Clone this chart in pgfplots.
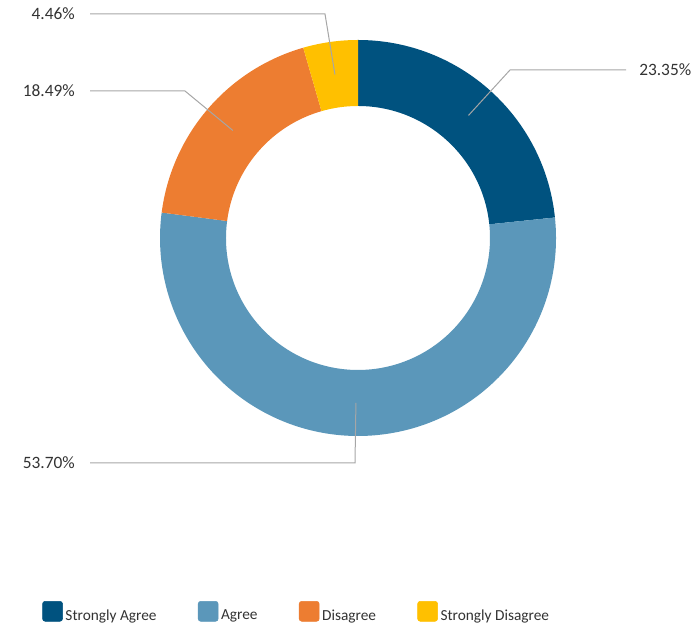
\documentclass[border=0pt]{standalone}
\usepackage{pgfplots}
\pgfplotsset{compat=1.18}
\usepackage{pgfplotstable}
\usepackage{fontspec}
\setmainfont{Carlito}

\definecolor{cSA}{HTML}{00527F}
\definecolor{cA}{HTML}{5B97BA}
\definecolor{cD}{HTML}{ED7D31}
\definecolor{cSD}{HTML}{FFC000}
\definecolor{leadgray}{HTML}{A6A6A6}

\pgfplotstableread{
label value colour
{Strongly Agree} 23.35 cSA
Agree 53.70 cA
Disagree 18.49 cD
{Strongly Disagree} 4.46 cSD
}\responses

% ring geometry, in axis units (1 unit = 0.75pt)
\def\cx{358}\def\cy{389}
\def\rout{198}\def\rin{132}\def\rmid{165}

% build the ring slices from the table, clockwise from 12 o'clock
\def\donut{}
\def\cum{0}
\pgfplotstablegetrowsof{\responses}
\pgfmathtruncatemacro\lastrow{\pgfplotsretval-1}
\pgfplotsforeachungrouped \i in {0,...,\lastrow}{%
  \pgfplotstablegetelem{\i}{value}\of\responses \let\val\pgfplotsretval
  \pgfplotstablegetelem{\i}{colour}\of\responses \let\col\pgfplotsretval
  \pgfmathsetmacro\sa{90-3.6*\cum}
  \pgfmathsetmacro\ea{90-3.6*(\cum+\val)}
  \pgfmathsetmacro\ma{(\sa+\ea)/2}
  \pgfmathsetmacro\cum{\cum+\val}
  \pgfmathsetmacro\ox{\cx+\rout*cos(\sa)}
  \pgfmathsetmacro\oy{\cy+\rout*sin(\sa)}
  \pgfmathsetmacro\ix{\cx+\rin*cos(\ea)}
  \pgfmathsetmacro\iy{\cy+\rin*sin(\ea)}
  \pgfmathsetmacro\lx{\cx+\rmid*cos(\ma)}
  \pgfmathsetmacro\ly{\cy+\rmid*sin(\ma)}
  \xdef\donut{\donut
    \noexpand\fill[\col] (axis cs:\ox,\oy)
      arc[start angle=\sa, end angle=\ea, radius=\rout*0.75pt]
      -- (axis cs:\ix,\iy)
      arc[start angle=\ea, end angle=\sa, radius=\rin*0.75pt] -- cycle;}
  \expandafter\xdef\csname lp\i\endcsname{axis cs:\lx,\ly}
  \expandafter\xdef\csname lv\i\endcsname{\val}
}

\newcommand\pct[1]{\pgfmathprintnumber[fixed,fixed zerofill,precision=2,assume math mode=true]{#1}\%}

\begin{document}
\begin{tikzpicture}
\begin{axis}[
    x=0.75pt, y=0.75pt,
    xmin=0, xmax=699, ymin=0, ymax=627,
    hide axis, clip=false,
    legend columns=4,
    legend style={at={(axis cs:297,14)}, anchor=center, draw=none,
        font=\fontsize{11.5}{14}\selectfont, text=black!80,
        /tikz/every even column/.append style={column sep=29pt}},
]
\path (axis cs:0,0) rectangle (axis cs:699,627);
\donut
\begin{scope}[leadgray, line width=0.75pt]
\draw (\csname lp0\endcsname) -- (axis cs:510,557) -- (axis cs:626,557);
\draw (\csname lp1\endcsname) -- (axis cs:355,164) -- (axis cs:90,164);
\draw (\csname lp2\endcsname) -- (axis cs:185,536) -- (axis cs:90,536);
\draw (\csname lp3\endcsname) -- (axis cs:325,613) -- (axis cs:90,613);
\end{scope}
\begin{scope}[every node/.style={inner sep=0pt, text=black!80, font=\fontsize{13}{16}\selectfont}]
\node[anchor=west] at (axis cs:639,557) {\pct{\csname lv0\endcsname}};
\node[anchor=east] at (axis cs:75,164) {\pct{\csname lv1\endcsname}};
\node[anchor=east] at (axis cs:75,536) {\pct{\csname lv2\endcsname}};
\node[anchor=east] at (axis cs:75,613) {\pct{\csname lv3\endcsname}};
\end{scope}
\addlegendimage{legend image code/.code={\fill[cSA,rounded corners=2pt] (0pt,-4pt) rectangle (15pt,11pt);}}
\addlegendentry{Strongly Agree}
\addlegendimage{legend image code/.code={\fill[cA,rounded corners=2pt] (0pt,-4pt) rectangle (15pt,11pt);}}
\addlegendentry{Agree}
\addlegendimage{legend image code/.code={\fill[cD,rounded corners=2pt] (0pt,-4pt) rectangle (15pt,11pt);}}
\addlegendentry{Disagree}
\addlegendimage{legend image code/.code={\fill[cSD,rounded corners=2pt] (0pt,-4pt) rectangle (15pt,11pt);}}
\addlegendentry{Strongly Disagree}
\end{axis}
\end{tikzpicture}
\end{document}
